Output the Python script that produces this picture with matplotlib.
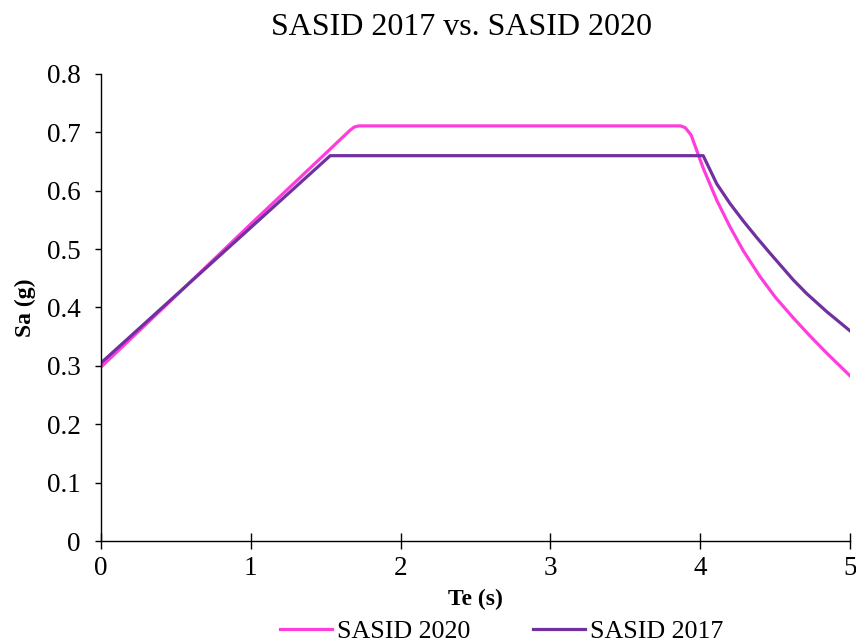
import matplotlib.pyplot as plt

plt.rcParams['font.family'] = ['Liberation Serif', 'DejaVu Serif']

# SASID 2020 spectrum
te_2020 = [0.0, 0.5, 1.0, 1.5, 1.66, 1.69, 1.72, 3.87, 3.90, 3.939, 4.021, 4.11, 4.199,
           4.288, 4.399, 4.5, 4.622, 4.73, 4.844, 5.0]
sa_2020 = [0.298, 0.420, 0.543, 0.664, 0.703, 0.709, 0.711, 0.711, 0.708, 0.6955, 0.638, 0.584, 0.538,
           0.497, 0.453, 0.418, 0.382, 0.352, 0.322, 0.283]

# SASID 2017 spectrum
te_2017 = [0.0, 0.5, 1.0, 1.53, 4.02, 4.11, 4.199, 4.288, 4.38, 4.466, 4.622, 4.71, 4.844, 5.0]
sa_2017 = [0.305, 0.421, 0.537, 0.660, 0.660, 0.612, 0.578, 0.548, 0.519, 0.493, 0.447, 0.424, 0.393, 0.360]

fig = plt.figure(figsize=(8.56, 6.43), dpi=100)
ax = fig.add_axes([0.118, 0.1586, 0.875, 0.7264])

ax.plot(te_2020, sa_2020, color='#FF3DDC', linewidth=2.3, label='SASID 2020')
ax.plot(te_2017, sa_2017, color='#7030A0', linewidth=2.3, label='SASID 2017')

ax.set_xlim(0, 5)
ax.set_ylim(0, 0.8)
ax.set_xticks([0, 1, 2, 3, 4, 5])
ax.set_yticks([0, 0.1, 0.2, 0.3, 0.4, 0.5, 0.6, 0.7, 0.8])
ax.set_yticklabels(['0', '0.1', '0.2', '0.3', '0.4', '0.5', '0.6', '0.7', '0.8'])
ax.tick_params(axis='x', direction='inout', length=11, width=1, labelsize=19.5, pad=5)
ax.tick_params(axis='y', direction='out', length=4.5, width=1, labelsize=19.5, pad=10)

for side in ['top', 'right']:
    ax.spines[side].set_visible(False)
for side in ['left', 'bottom']:
    ax.spines[side].set_color('black')
    ax.spines[side].set_linewidth(1)

ax.set_xlabel('Te (s)', fontsize=17, fontweight='bold', labelpad=6)
ax.set_ylabel('Sa (g)', fontsize=17, fontweight='bold', labelpad=8)
fig.text(0.539, 0.957, 'SASID 2017 vs. SASID 2020', fontsize=23, ha='center', va='center')

ax.legend(loc='center', bbox_to_anchor=(502 / 856, 1 - 631 / 643), bbox_transform=fig.transFigure,
          ncol=2, frameon=False, fontsize=18.7, handlelength=2.0, columnspacing=2.4,
          handletextpad=0.2, borderpad=0)

fig.savefig('out.png', dpi=100)
